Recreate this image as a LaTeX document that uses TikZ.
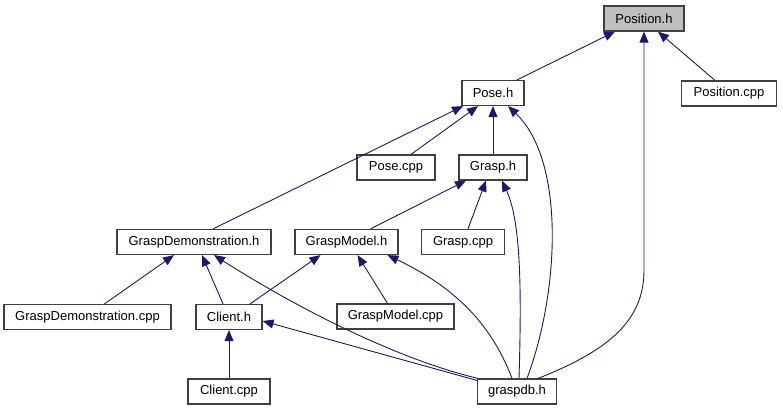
\documentclass[tikz,border=0pt]{standalone}
\usepackage{fontspec}
\setmainfont{Liberation Sans}
\usetikzlibrary{arrows.meta}
\definecolor{edgeblue}{HTML}{191970}
\definecolor{boxgray}{HTML}{404040}
\definecolor{fillgray}{HTML}{BFBFBF}

\begin{document}
\begin{tikzpicture}[x=1pt,y=-1pt,
  box/.style={draw=boxgray,line width=1.2pt,fill=white,minimum height=25pt,inner sep=0pt,font=\fontsize{13}{15}\selectfont},
  edge/.style={draw=edgeblue,line width=0.9pt,-{Triangle[length=11pt,width=9pt]}}]
\useasboundingbox (0,0) rectangle (783,411);
% Draw the files
\node[box,fill=fillgray,minimum width=80pt] (positionh) at (644,18.5) {Position.h};
\node[box,minimum width=62pt] (poseh) at (493,93) {Pose.h};
\node[box,minimum width=95pt] (positioncpp) at (729,93.5) {Position.cpp};
\node[box,minimum width=78pt] (posecpp) at (396,167.5) {Pose.cpp};
\node[box,minimum width=68pt] (grasph) at (493,167.5) {Grasp.h};
\node[box,minimum width=154pt] (demoh) at (194,242) {GraspDemonstration.h};
\node[box,minimum width=103pt] (modelh) at (346.5,242) {GraspModel.h};
\node[box,minimum width=83pt] (graspcpp) at (463,242) {Grasp.cpp};
\node[box,minimum width=167pt] (democpp) at (87.5,317) {GraspDemonstration.cpp};
\node[box,minimum width=66pt] (clienth) at (229,317) {Client.h};
\node[box,minimum width=117pt] (modelcpp) at (395.5,316.5) {GraspModel.cpp};
\node[box,minimum width=82pt] (clientcpp) at (229,391.5) {Client.cpp};
\node[box,minimum width=79pt] (graspdb) at (517,391.5) {graspdb.h};
% Draw the includes
\draw[edge] ([xshift=24pt]poseh.north) -- ([xshift=-29pt]positionh.south);
\draw[edge] ([xshift=-14pt]positioncpp.north) -- ([xshift=14pt]positionh.south);
\draw[edge] ([xshift=21pt]graspdb.north) .. controls (610,350) and (644,320) .. (644,270) -- (positionh.south);
\draw[edge] ([xshift=15pt]posecpp.north) -- ([xshift=-15pt]poseh.south);
\draw[edge] (grasph.north) -- (poseh.south);
\draw[edge] ([xshift=19pt]demoh.north) -- ([xshift=-30pt]poseh.south);
\draw[edge] ([xshift=10pt]graspdb.north) .. controls (560,290) and (565,160) .. ([xshift=15pt]poseh.south);
\draw[edge] ([xshift=24pt]modelh.north) -- ([xshift=-27pt]grasph.south);
\draw[edge] ([xshift=5pt]graspcpp.north) -- ([xshift=-7pt]grasph.south);
\draw[edge] ([xshift=2pt]graspdb.north) .. controls (522,280) and (520,220) .. ([xshift=9pt]grasph.south);
\draw[edge] ([xshift=17pt]democpp.north) -- ([xshift=-20pt]demoh.south);
\draw[edge] ([xshift=-6pt]clienth.north) -- ([xshift=8pt]demoh.south);
\draw[edge] ([xshift=-39pt]graspdb.north) .. controls (400,360) and (300,310) .. ([xshift=20pt]demoh.south);
\draw[edge] ([xshift=21pt]clienth.north) -- ([xshift=-26pt]modelh.south);
\draw[edge] ([xshift=-8pt]modelcpp.north) -- ([xshift=11pt]modelh.south);
\draw[edge] ([xshift=-5pt]graspdb.north) .. controls (490,320) and (450,285) .. ([xshift=41pt]modelh.south);
\draw[edge] (clientcpp.north) -- (clienth.south);
\draw[edge] ([yshift=-2pt]graspdb.north west) -- ([yshift=-4pt]clienth.east);
\end{tikzpicture}
\end{document}
